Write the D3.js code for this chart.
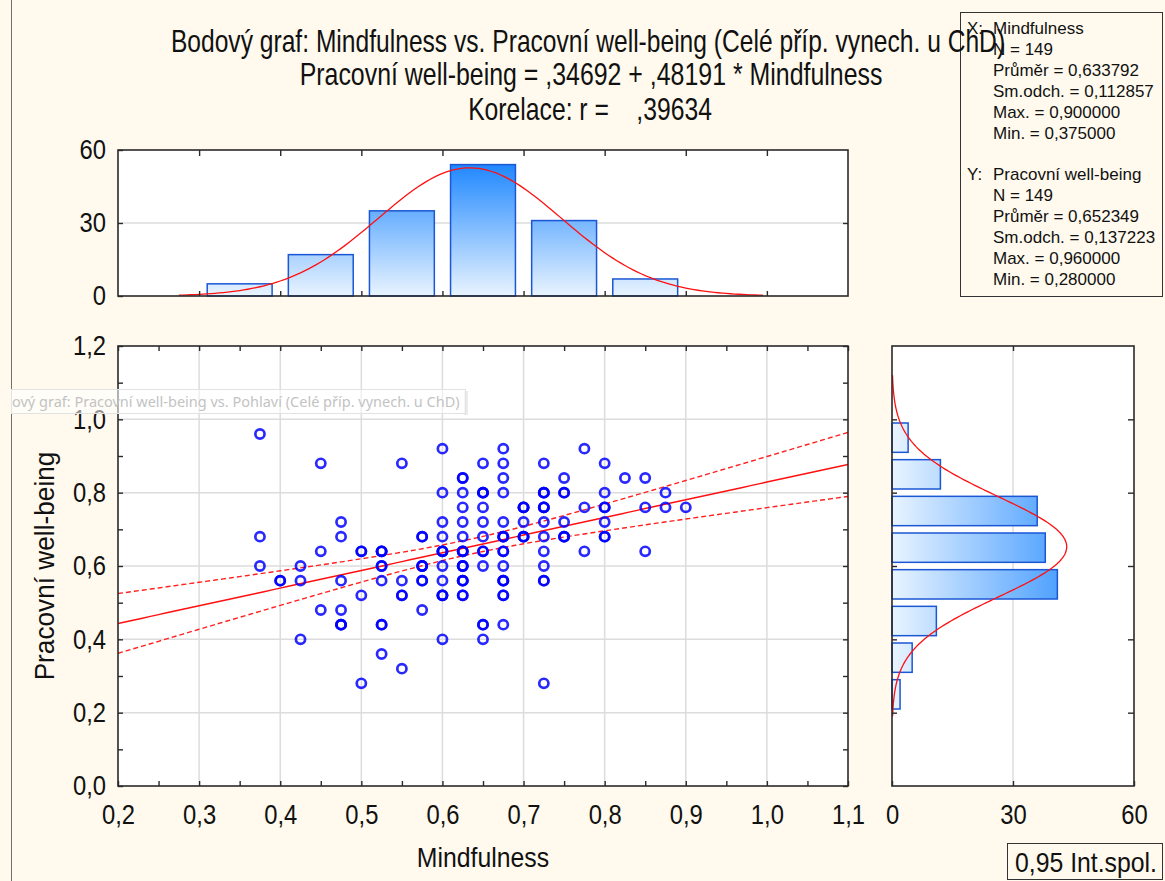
<!DOCTYPE html>
<html>
<head>
<meta charset="utf-8">
<script src="https://cdn.jsdelivr.net/npm/d3@7"></script>
<style>
  body { margin: 0; background: #fffaed; }
  svg { display: block; }
  text { font-family: "Liberation Sans", Arial, sans-serif; fill: #111; }
</style>
</head>
<body>
<svg id="chart" width="1165" height="881"></svg>
<script>
// ---- Data -----------------------------------------------------------
// Distinct (Mindfulness, Pracovní well-being) pairs and number of cases at each pair
const mindfulness = [
  0.375, 0.375, 0.375,
  0.4,
  0.425, 0.425, 0.425,
  0.45, 0.45, 0.45,
  0.475, 0.475, 0.475, 0.475, 0.475,
  0.5, 0.5, 0.5,
  0.525, 0.525, 0.525, 0.525, 0.525,
  0.55, 0.55, 0.55, 0.55,
  0.575, 0.575, 0.575, 0.575,
  0.6, 0.6, 0.6, 0.6, 0.6, 0.6, 0.6, 0.6, 0.6,
  0.625, 0.625, 0.625, 0.625, 0.625, 0.625, 0.625, 0.625, 0.625,
  0.65, 0.65, 0.65, 0.65, 0.65, 0.65, 0.65, 0.65, 0.65,
  0.675, 0.675, 0.675, 0.675, 0.675, 0.675, 0.675, 0.675, 0.675, 0.675, 0.675,
  0.7, 0.7, 0.7,
  0.725, 0.725, 0.725, 0.725, 0.725, 0.725, 0.725, 0.725, 0.725,
  0.75, 0.75, 0.75, 0.75,
  0.775, 0.775, 0.775,
  0.8, 0.8, 0.8, 0.8, 0.8,
  0.825,
  0.85, 0.85, 0.85,
  0.875, 0.875,
  0.9
];
const wellbeing = [
  0.96, 0.68, 0.60,
  0.56,
  0.60, 0.56, 0.40,
  0.88, 0.64, 0.48,
  0.72, 0.68, 0.56, 0.48, 0.44,
  0.64, 0.52, 0.28,
  0.64, 0.60, 0.56, 0.44, 0.36,
  0.88, 0.56, 0.52, 0.32,
  0.68, 0.60, 0.56, 0.48,
  0.92, 0.80, 0.72, 0.68, 0.64, 0.60, 0.56, 0.52, 0.40,
  0.84, 0.80, 0.76, 0.72, 0.68, 0.64, 0.60, 0.56, 0.52,
  0.88, 0.80, 0.76, 0.72, 0.68, 0.64, 0.60, 0.44, 0.40,
  0.92, 0.88, 0.84, 0.80, 0.72, 0.68, 0.64, 0.60, 0.56, 0.52, 0.44,
  0.76, 0.72, 0.68,
  0.88, 0.80, 0.76, 0.72, 0.68, 0.64, 0.60, 0.56, 0.28,
  0.84, 0.80, 0.72, 0.68,
  0.92, 0.76, 0.64,
  0.88, 0.80, 0.76, 0.72, 0.68,
  0.84,
  0.84, 0.76, 0.64,
  0.80, 0.76,
  0.76
];
const caseCount = [
  1, 1, 1,
  2,
  1, 1, 1,
  1, 1, 1,
  1, 1, 1, 1, 3,
  2, 1, 1,
  3, 2, 1, 2, 1,
  1, 1, 2, 1,
  2, 3, 2, 1,
  1, 1, 1, 1, 3, 1, 1, 3, 1,
  2, 1, 1, 1, 1, 3, 3, 3, 2,
  1, 3, 1, 1, 1, 2, 1, 2, 1,
  1, 1, 1, 1, 1, 3, 2, 1, 3, 2, 1,
  3, 1, 3,
  1, 3, 3, 1, 1, 1, 1, 2, 1,
  1, 2, 1, 3,
  1, 1, 1,
  1, 1, 2, 1, 2,
  1,
  1, 1, 1,
  1, 1,
  1
];

// Marginal histograms
const mfBinEdges = [0.3, 0.4, 0.5, 0.6, 0.7, 0.8, 0.9];
const mfBinCounts = [5, 17, 35, 54, 31, 7];
const wbBinEdges = [0.2, 0.3, 0.4, 0.5, 0.6, 0.7, 0.8, 0.9, 1.0];
const wbBinCounts = [2, 5, 11, 41, 38, 36, 12, 4];

// Descriptive statistics and regression
const nCases = 149;
const mfMean = 0.633792, mfSd = 0.112857;
const wbMean = 0.652349, wbSd = 0.137223;
const intercept = 0.34692, slope = 0.48191, corr = 0.39634;
const tCrit = 1.9762; // t(0.975; 147)

const titleLines = [
  "Bodový graf: Mindfulness vs. Pracovní well-being (Celé příp. vynech. u ChD)",
  "Pracovní well-being = ,34692 + ,48191 * Mindfulness",
  "Korelace: r =    ,39634"
];
const statsX = ["N = 149", "Průměr = 0,633792", "Sm.odch. = 0,112857", "Max. = 0,900000", "Min. = 0,375000"];
const statsY = ["N = 149", "Průměr = 0,652349", "Sm.odch. = 0,137223", "Max. = 0,960000", "Min. = 0,280000"];

// ---- Layout -----------------------------------------------------------
const svg = d3.select("#chart");
const comma = v => d3.format(".1f")(v).replace(".", ",");
const isTenth = v => Math.abs(v * 10 - Math.round(v * 10)) < 1e-6;
const condense = 0.85;   // horizontal squeeze of the chart lettering

const x = d3.scaleLinear().domain([0.2, 1.1]).range([118, 848]);
const y = d3.scaleLinear().domain([0, 1.2]).range([786, 346]);
const yTop = d3.scaleLinear().domain([0, 60]).range([296, 150]);
const xRight = d3.scaleLinear().domain([0, 60]).range([892, 1134]);

const defs = svg.append("defs");
svg.append("rect").attr("width", 1165).attr("height", 881).attr("fill", "#fffaed");

// window border on the left
svg.append("line").attr("x1", 11.5).attr("x2", 11.5).attr("y1", 0).attr("y2", 881)
  .attr("stroke", "#707070").attr("stroke-width", 1);

// gradients for histogram bars
const gTopGrad = defs.append("linearGradient").attr("id", "gradTop")
  .attr("gradientUnits", "userSpaceOnUse")
  .attr("x1", 0).attr("x2", 0).attr("y1", yTop(0)).attr("y2", yTop(60));
gTopGrad.append("stop").attr("offset", 0).attr("stop-color", "#e9f4ff");
gTopGrad.append("stop").attr("offset", 1).attr("stop-color", "#0a7cff");
const gRightGrad = defs.append("linearGradient").attr("id", "gradRight")
  .attr("gradientUnits", "userSpaceOnUse")
  .attr("x1", xRight(0)).attr("x2", xRight(60)).attr("y1", 0).attr("y2", 0);
gRightGrad.append("stop").attr("offset", 0).attr("stop-color", "#e9f4ff");
gRightGrad.append("stop").attr("offset", 1).attr("stop-color", "#0a7cff");

defs.append("clipPath").attr("id", "clipMain").append("rect")
  .attr("x", x(0.2)).attr("y", y(1.2)).attr("width", x(1.1) - x(0.2)).attr("height", y(0) - y(1.2));

// condensed lettering: text squeezed horizontally around its anchor point
function narrowText(parent, tx, ty, str, size, squeeze, anchor) {
  return parent.append("g").attr("transform", `translate(${tx},${ty}) scale(${squeeze},1)`)
    .append("text").attr("x", 0).attr("y", 0)
    .attr("text-anchor", anchor || "start").attr("xml:space", "preserve")
    .style("font-size", size + "px").style("white-space", "pre").text(str);
}

// ---- Statistics box -----------------------------------------------------
svg.append("rect").attr("x", 960.5).attr("y", 12.5).attr("width", 202).attr("height", 284)
  .attr("fill", "#fffaed").attr("stroke", "#333").attr("stroke-width", 1);
const statStep = 20.9;
const stats = svg.append("g").style("font-size", "17px");
stats.append("text").attr("x", 967).attr("y", 34).text("X:");
stats.append("text").attr("x", 993).attr("y", 34).text("Mindfulness");
statsX.forEach((s, i) => stats.append("text").attr("x", 993).attr("y", 34 + (i + 1) * statStep).text(s));
const yStart = 34 + 7 * statStep;
stats.append("text").attr("x", 967).attr("y", yStart).text("Y:");
stats.append("text").attr("x", 993).attr("y", yStart).text("Pracovní well-being");
statsY.forEach((s, i) => stats.append("text").attr("x", 993).attr("y", yStart + (i + 1) * statStep).text(s));

// ---- Title -----------------------------------------------------------
const titleG = svg.append("g");
narrowText(titleG, 588, 52, titleLines[0], 30.5, 0.807, "middle");
narrowText(titleG, 591, 85, titleLines[1], 30.5, 0.817, "middle");
narrowText(titleG, 590, 120, titleLines[2], 30.5, 0.81, "middle");

// ---- Top histogram (Mindfulness) ---------------------------------------
const topG = svg.append("g");
topG.append("rect").attr("x", x(0.2)).attr("y", yTop(60)).attr("width", x(1.1) - x(0.2))
  .attr("height", yTop(0) - yTop(60)).attr("fill", "#fff");
topG.append("line").attr("x1", x(0.2)).attr("x2", x(1.1)).attr("y1", yTop(30)).attr("y2", yTop(30))
  .attr("stroke", "#dcdcdc").attr("stroke-width", 1.5);
topG.selectAll("rect.bar").data(mfBinCounts).join("rect").attr("class", "bar")
  .attr("x", (d, i) => x(mfBinEdges[i]) + 0.1 * (x(mfBinEdges[i + 1]) - x(mfBinEdges[i])))
  .attr("width", (d, i) => 0.8 * (x(mfBinEdges[i + 1]) - x(mfBinEdges[i])))
  .attr("y", d => yTop(d)).attr("height", d => yTop(0) - yTop(d))
  .attr("fill", "url(#gradTop)").attr("stroke", "#1b57d4").attr("stroke-width", 1.5);
const mfBinWidth = mfBinEdges[1] - mfBinEdges[0];
const mfCurve = d3.range(0.275, 0.9951, 0.005).map(v => [v,
  nCases * mfBinWidth * Math.exp(-0.5 * ((v - mfMean) / mfSd) ** 2) / (mfSd * Math.sqrt(2 * Math.PI))]);
topG.append("path").datum(mfCurve)
  .attr("d", d3.line().x(d => x(d[0])).y(d => yTop(d[1])))
  .attr("fill", "none").attr("stroke", "#ff1010").attr("stroke-width", 1.3);
topG.append("g").attr("class", "lab-left").attr("transform", `translate(${x(0.2)},0)`)
  .call(d3.axisLeft(yTop).tickValues([0, 30, 60]).tickSize(-5).tickPadding(12));
topG.append("g").attr("transform", `translate(${x(1.1)},0)`)
  .call(d3.axisRight(yTop).tickValues([30]).tickSize(-5).tickFormat(""));
topG.append("g").attr("transform", `translate(0,${yTop(60)})`)
  .call(d3.axisTop(x).tickValues(d3.range(3, 11).map(v => v / 10)).tickSize(-6).tickFormat(""));
topG.append("g").attr("transform", `translate(0,${yTop(0)})`)
  .call(d3.axisBottom(x).tickValues(d3.range(3, 11).map(v => v / 10)).tickSize(-5).tickFormat(""));
topG.append("rect").attr("x", x(0.2)).attr("y", yTop(60)).attr("width", x(1.1) - x(0.2))
  .attr("height", yTop(0) - yTop(60)).attr("fill", "none").attr("stroke", "#2a2a2a").attr("stroke-width", 1.6);

// ---- Right histogram (Pracovní well-being) ----------------------------
const rightG = svg.append("g");
rightG.append("rect").attr("x", xRight(0)).attr("y", y(1.2)).attr("width", xRight(60) - xRight(0))
  .attr("height", y(0) - y(1.2)).attr("fill", "#fff");
rightG.append("line").attr("x1", xRight(30)).attr("x2", xRight(30)).attr("y1", y(1.2)).attr("y2", y(0))
  .attr("stroke", "#dcdcdc").attr("stroke-width", 1.5);
rightG.selectAll("rect.bar").data(wbBinCounts).join("rect").attr("class", "bar")
  .attr("y", (d, i) => y(wbBinEdges[i + 1]) + 0.1 * (y(wbBinEdges[i]) - y(wbBinEdges[i + 1])))
  .attr("height", (d, i) => 0.8 * (y(wbBinEdges[i]) - y(wbBinEdges[i + 1])))
  .attr("x", xRight(0)).attr("width", d => xRight(d) - xRight(0))
  .attr("fill", "url(#gradRight)").attr("stroke", "#1b57d4").attr("stroke-width", 1.5);
const wbBinWidth = wbBinEdges[1] - wbBinEdges[0];
const wbCurve = d3.range(0.19, 1.1201, 0.005).map(v => [v,
  nCases * wbBinWidth * Math.exp(-0.5 * ((v - wbMean) / wbSd) ** 2) / (wbSd * Math.sqrt(2 * Math.PI))]);
rightG.append("path").datum(wbCurve)
  .attr("d", d3.line().x(d => xRight(d[1])).y(d => y(d[0])))
  .attr("fill", "none").attr("stroke", "#ff1010").attr("stroke-width", 1.3);
rightG.append("g").attr("class", "lab-bottom").attr("transform", `translate(0,${y(0)})`)
  .call(d3.axisBottom(xRight).tickValues([0, 30, 60]).tickSize(-5).tickPadding(18));
rightG.append("g").attr("transform", `translate(0,${y(1.2)})`)
  .call(d3.axisTop(xRight).tickValues([30]).tickSize(-5).tickFormat(""));
rightG.append("g").attr("transform", `translate(${xRight(0)},0)`)
  .call(d3.axisLeft(y).tickValues([0.2, 0.4, 0.6, 0.8, 1.0]).tickSize(-5).tickFormat(""));
rightG.append("g").attr("transform", `translate(${xRight(60)},0)`)
  .call(d3.axisRight(y).tickValues([0.2, 0.4, 0.6, 0.8, 1.0]).tickSize(-6).tickFormat(""));
rightG.append("rect").attr("x", xRight(0)).attr("y", y(1.2)).attr("width", xRight(60) - xRight(0))
  .attr("height", y(0) - y(1.2)).attr("fill", "none").attr("stroke", "#2a2a2a").attr("stroke-width", 1.6);

// ---- Scatter plot ---------------------------------------------------------
const mainG = svg.append("g");
mainG.append("rect").attr("x", x(0.2)).attr("y", y(1.2)).attr("width", x(1.1) - x(0.2))
  .attr("height", y(0) - y(1.2)).attr("fill", "#fff");
mainG.append("g").selectAll("line").data(d3.range(3, 11).map(v => v / 10)).join("line")
  .attr("x1", d => x(d)).attr("x2", d => x(d)).attr("y1", y(1.2)).attr("y2", y(0))
  .attr("stroke", "#dcdcdc").attr("stroke-width", 1.5);
mainG.append("g").selectAll("line").data([0.2, 0.4, 0.6, 0.8, 1.0]).join("line")
  .attr("x1", x(0.2)).attr("x2", x(1.1)).attr("y1", d => y(d)).attr("y2", d => y(d))
  .attr("stroke", "#dcdcdc").attr("stroke-width", 1.5);

// regression line with 95% confidence band
const sxx = (nCases - 1) * mfSd * mfSd;
const sRes = wbSd * Math.sqrt(1 - corr * corr) * Math.sqrt((nCases - 1) / (nCases - 2));
const fit = v => intercept + slope * v;
const half = v => tCrit * sRes * Math.sqrt(1 / nCases + (v - mfMean) ** 2 / sxx);
const xs = d3.range(0.2, 1.1001, 0.01);
const lineFn = d3.line().x(d => x(d[0])).y(d => y(d[1]));
const reg = mainG.append("g").attr("clip-path", "url(#clipMain)");
reg.append("path").datum(xs.map(v => [v, fit(v) + half(v)])).attr("d", lineFn)
  .attr("fill", "none").attr("stroke", "#ff2020").attr("stroke-width", 1.4).attr("stroke-dasharray", "5,3");
reg.append("path").datum(xs.map(v => [v, fit(v) - half(v)])).attr("d", lineFn)
  .attr("fill", "none").attr("stroke", "#ff2020").attr("stroke-width", 1.4).attr("stroke-dasharray", "5,3");
reg.append("path").datum(xs.map(v => [v, fit(v)])).attr("d", lineFn)
  .attr("fill", "none").attr("stroke", "#ff1010").attr("stroke-width", 1.5);

// one circle per case; coinciding cases darken the ring
const cases = [];
mindfulness.forEach((m, i) => { for (let k = 0; k < caseCount[i]; k++) cases.push([m, wellbeing[i]]); });
mainG.append("g").selectAll("circle").data(cases).join("circle")
  .attr("cx", d => x(d[0])).attr("cy", d => y(d[1])).attr("r", 4.6)
  .attr("fill", "none").attr("stroke", "#0000ff").attr("stroke-opacity", 0.84).attr("stroke-width", 2.7);

// axes
const xTicks = d3.range(0, 19).map(i => 0.2 + i * 0.05);
mainG.append("g").attr("class", "lab-bottom").attr("transform", `translate(0,${y(0)})`)
  .call(d3.axisBottom(x).tickValues(xTicks).tickSize(-5).tickPadding(18)
    .tickFormat(v => isTenth(v) ? comma(v) : ""));
mainG.append("g").attr("transform", `translate(0,${y(1.2)})`)
  .call(d3.axisTop(x).tickValues(xTicks).tickSize(-5).tickFormat(""));
const yTicks = d3.range(0, 13).map(i => i / 10);
mainG.append("g").attr("class", "lab-left").attr("transform", `translate(${x(0.2)},0)`)
  .call(d3.axisLeft(y).tickValues(yTicks).tickSize(-5).tickPadding(12)
    .tickFormat(v => (Math.round(v * 10) % 2 === 0) ? comma(v) : ""));
mainG.append("g").attr("transform", `translate(${x(1.1)},0)`)
  .call(d3.axisRight(y).tickValues(yTicks).tickSize(-5).tickFormat(""));
mainG.append("rect").attr("x", x(0.2)).attr("y", y(1.2)).attr("width", x(1.1) - x(0.2))
  .attr("height", y(0) - y(1.2)).attr("fill", "none").attr("stroke", "#2a2a2a").attr("stroke-width", 1.6);

// axis styling: condensed tick lettering
svg.selectAll(".domain").remove();
svg.selectAll(".tick line").attr("stroke", "#2a2a2a").attr("stroke-width", 1.4);
svg.selectAll(".tick text").attr("fill", "#111").style("font-size", "28px")
  .style("font-family", "'Liberation Sans',Arial,sans-serif")
  .attr("transform", `scale(${condense},1)`);
svg.selectAll(".lab-left .tick text").attr("x", -12 / condense);

// axis titles
narrowText(svg, (x(0.2) + x(1.1)) / 2, 867, "Mindfulness", 28.5, 0.87, "middle");
narrowText(svg.append("g").attr("transform", `translate(54,${(y(0) + y(1.2)) / 2}) rotate(-90)`),
  0, 0, "Pracovní well-being", 28.5, 0.92, "middle");

// confidence band legend
svg.append("rect").attr("x", 1007.5).attr("y", 843.5).attr("width", 155).attr("height", 36)
  .attr("fill", "#fffaed").attr("stroke", "#333").attr("stroke-width", 1);
narrowText(svg, 1015, 872, "0,95 Int.spol.", 28.5, 0.87, "start");

// hover label of a neighbouring graph window
svg.append("rect").attr("x", 464).attr("y", 391).attr("width", 4).attr("height", 24)
  .attr("fill", "#e4e4e4").attr("opacity", 0.7);
svg.append("rect").attr("x", 11.5).attr("y", 389.5).attr("width", 454).attr("height", 24)
  .attr("fill", "#ffffff").attr("fill-opacity", 0.55).attr("stroke", "#e2e2e2");
svg.append("text").attr("x", 12).attr("y", 407)
  .style("font-family", "'Noto Sans','Open Sans',sans-serif").style("font-size", "14.5px")
  .style("fill", "#c3c3c3").text("ový graf: Pracovní well-being vs. Pohlaví (Celé příp. vynech. u ChD)");
</script>
</body>
</html>
